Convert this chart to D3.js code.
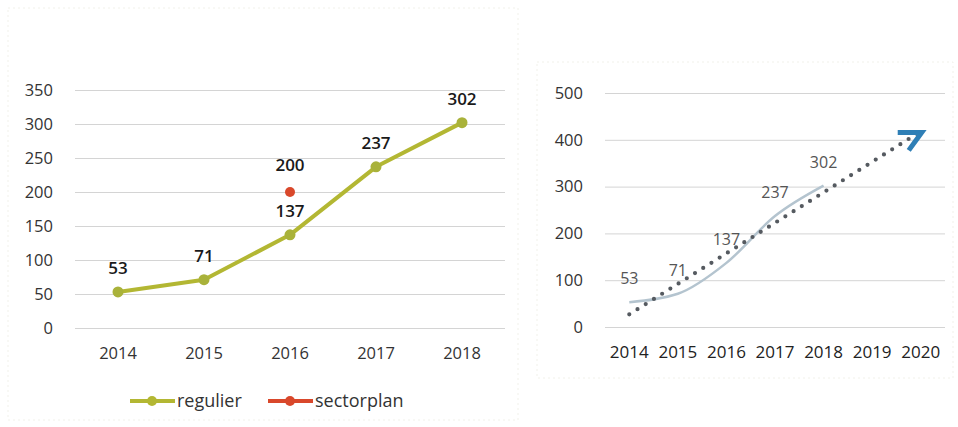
<!DOCTYPE html>
<html><head><meta charset="utf-8">
<script src="https://cdn.jsdelivr.net/npm/d3@7"></script>
<style>
body{margin:0;background:#fff;}
svg{display:block;font-family:"Open Sans",sans-serif;}
.grid line{stroke:#d4d4d4;stroke-width:1;}
</style></head><body>
<svg id="c" width="958" height="427"></svg>
<script>
// ---- data ----
const yearsLeft = ["2014","2015","2016","2017","2018"];
const regulier = [53, 71, 137, 237, 302];
const sectorplanYear = ["2016"];
const sectorplan = [200];
const leftTicks = [0,50,100,150,200,250,300,350];

const yearsRight = ["2014","2015","2016","2017","2018","2019","2020"];
const rightValues = [53, 71, 137, 237, 302];
const trendYears = ["2014","2020"];
const trendValues = [27, 418];
const rightTicks = [0,100,200,300,400,500];

const svg = d3.select("#c");

// faint panel frames (scan look)
svg.append("rect").attr("x",8).attr("y",8).attr("width",510).attr("height",412)
  .attr("fill","none").attr("stroke","#f1f1ea").attr("stroke-dasharray","2 3");
svg.append("rect").attr("x",537).attr("y",62).attr("width",416).attr("height",316)
  .attr("fill","none").attr("stroke","#f1f1ea").attr("stroke-dasharray","2 3");

// ===== LEFT CHART =====
const xL = d3.scaleBand().domain(yearsLeft).range([75,505]);
const yL = d3.scaleLinear().domain([0,350]).range([328,90]);
const cxL = d => xL(d) + xL.bandwidth()/2;

const gyL = svg.append("g").attr("class","grid").attr("transform","translate(75,0)")
  .call(d3.axisLeft(yL).tickValues(leftTicks).tickSize(-430).tickPadding(22));
gyL.select(".domain").remove();
gyL.selectAll("text").attr("font-size",16.5).attr("fill","#333").attr("font-family","Open Sans");

const gxL = svg.append("g").attr("transform","translate(0,328)")
  .call(d3.axisBottom(xL).tickSize(0).tickPadding(19));
gxL.select(".domain").remove();
gxL.selectAll("text").attr("font-size",16.5).attr("fill","#333").attr("font-family","Open Sans");

const lineL = d3.line().x((d,i)=>cxL(yearsLeft[i])).y(d=>yL(d));
const olive = "#b3b733";
svg.append("path").datum(regulier).attr("d",lineL).attr("fill","none")
  .attr("stroke",olive).attr("stroke-width",4).attr("stroke-linejoin","round");
svg.selectAll(".ptL").data(regulier).enter().append("circle")
  .attr("cx",(d,i)=>cxL(yearsLeft[i])).attr("cy",d=>yL(d)).attr("r",5.5).attr("fill","#a9b23a");
svg.selectAll(".lbL").data(regulier).enter().append("text")
  .attr("x",(d,i)=>cxL(yearsLeft[i])).attr("y",d=>yL(d)-18)
  .attr("text-anchor","middle").attr("font-size",17).attr("font-weight",600).attr("fill","#1a1a1a")
  .text(d=>d);

const red = "#d9482b";
svg.selectAll(".ptS").data(sectorplan).enter().append("circle")
  .attr("cx",(d,i)=>cxL(sectorplanYear[i])).attr("cy",d=>yL(d)).attr("r",5).attr("fill",red);
svg.selectAll(".lbS").data(sectorplan).enter().append("text")
  .attr("x",(d,i)=>cxL(sectorplanYear[i])).attr("y",d=>yL(d)-21)
  .attr("text-anchor","middle").attr("font-size",17).attr("font-weight",600).attr("fill","#1a1a1a")
  .text(d=>d);

// legend
const leg = [{name:"regulier",color:olive,x:130},{name:"sectorplan",color:red,x:268}];
leg.forEach(l=>{
  svg.append("line").attr("x1",l.x).attr("x2",l.x+45).attr("y1",401).attr("y2",401)
    .attr("stroke",l.color).attr("stroke-width",4);
  svg.append("circle").attr("cx",l.x+22).attr("cy",401).attr("r",5).attr("fill",l.color);
  svg.append("text").attr("x",l.x+47).attr("y",407).attr("font-size",18).attr("fill","#333").text(l.name);
});

// ===== RIGHT CHART =====
const xR = d3.scaleBand().domain(yearsRight).range([605,945]);
const yR = d3.scaleLinear().domain([0,500]).range([327,93]);
const cxR = d => xR(d) + xR.bandwidth()/2;

const gyR = svg.append("g").attr("class","grid").attr("transform","translate(605,0)")
  .call(d3.axisLeft(yR).tickValues(rightTicks).tickSize(-340).tickPadding(22));
gyR.select(".domain").remove();
gyR.selectAll("text").attr("font-size",16.5).attr("fill","#333").attr("font-family","Open Sans");

const gxR = svg.append("g").attr("transform","translate(0,327)")
  .call(d3.axisBottom(xR).tickSize(0).tickPadding(19));
gxR.select(".domain").remove();
gxR.selectAll("text").attr("font-size",17).attr("fill","#222").attr("font-family","Open Sans");

const lineR = d3.line().curve(d3.curveMonotoneX).x((d,i)=>cxR(yearsRight[i])).y(d=>yR(d));
svg.append("path").datum(rightValues).attr("d",lineR).attr("fill","none")
  .attr("stroke","#b4c4cf").attr("stroke-width",2.5);

const trendLine = d3.line().x((d,i)=>cxR(trendYears[i])).y(d=>yR(d));
svg.append("path").datum(trendValues).attr("d",trendLine).attr("fill","none")
  .attr("stroke","#555a60").attr("stroke-width",4.2).attr("stroke-linecap","round")
  .attr("stroke-dasharray","0 9.7");

svg.selectAll(".lbR").data(rightValues).enter().append("text")
  .attr("x",(d,i)=>cxR(yearsRight[i])).attr("y",d=>yR(d)-18)
  .attr("text-anchor","middle").attr("font-size",16).attr("fill","#555")
  .text(d=>d);

// blue arrow at end of trend
const ax = cxR("2020"), ay = yR(trendValues[1]);
svg.append("path")
  .attr("d",`M${ax-23},${ay+1} L${ax+1},${ay+1} L${ax-12},${ay+19}`)
  .attr("fill","none").attr("stroke","#2f7fb6").attr("stroke-width",5)
  .attr("stroke-linejoin","miter");
</script></body></html>
